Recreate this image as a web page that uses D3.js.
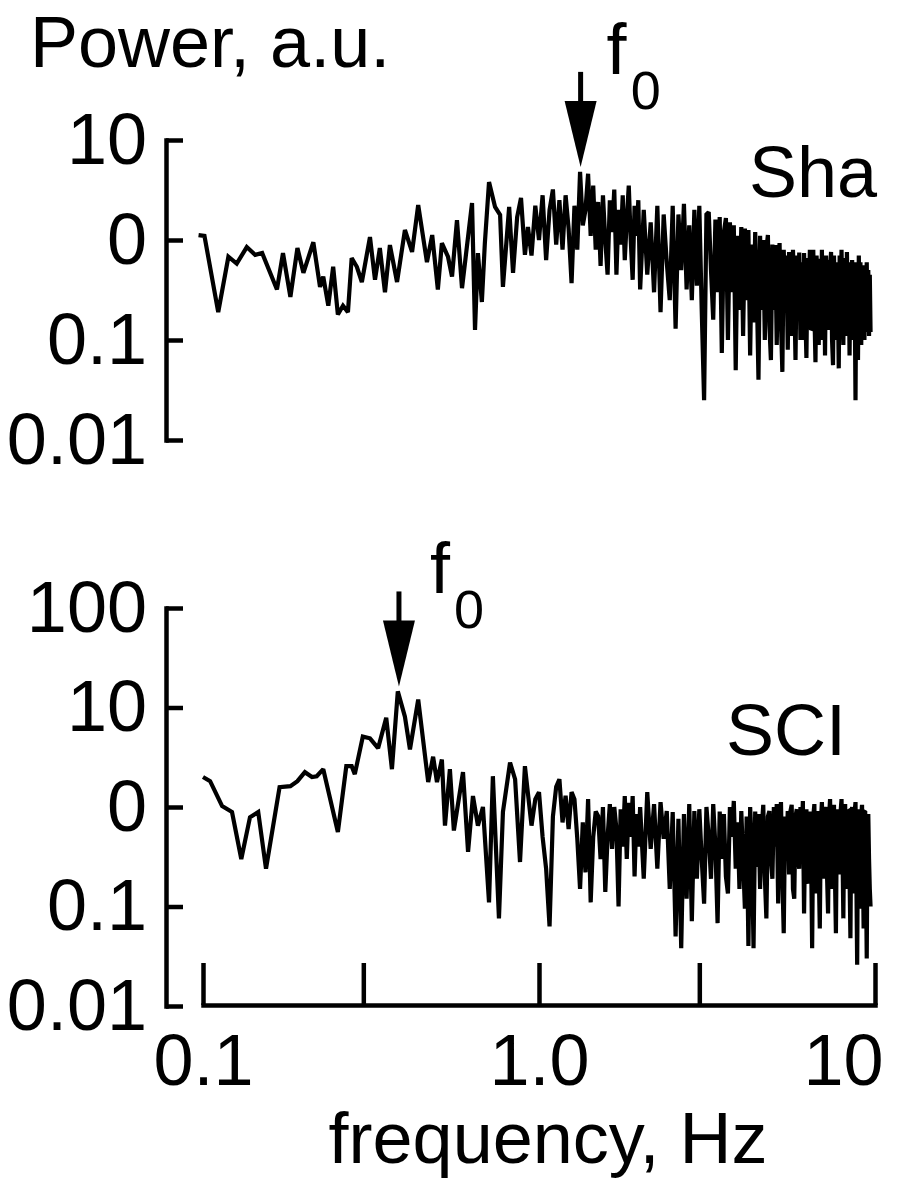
<!DOCTYPE html>
<html>
<head>
<meta charset="utf-8">
<script src="https://cdn.jsdelivr.net/npm/d3@7"></script>
<style>
  body { margin: 0; background: #fff; }
  svg { display: block; font-family: "Liberation Sans", Arial, sans-serif; }
</style>
</head>
<body>
<svg id="chart" width="902" height="1184"></svg>
<script>
// frequency bins (Hz) above ~1 Hz, shared by both spectra
const gridFreq = [
  0.950, 0.975, 1.000, 1.025, 1.050, 1.075, 1.100, 1.125, 1.150, 1.175,
  1.200, 1.225, 1.250, 1.275, 1.300, 1.325, 1.350, 1.375, 1.400, 1.425,
  1.450, 1.475, 1.500, 1.525, 1.550, 1.575, 1.600, 1.625, 1.650, 1.675,
  1.700, 1.725, 1.750, 1.775, 1.800, 1.825, 1.850, 1.875, 1.900, 1.925,
  1.950, 1.975, 2.000,
  2.05, 2.10, 2.15, 2.20, 2.25, 2.30, 2.35, 2.40, 2.45, 2.50,
  2.55, 2.60, 2.65, 2.70, 2.75, 2.80, 2.85, 2.90, 2.95, 3.00,
  3.05, 3.10, 3.15, 3.20, 3.25, 3.30, 3.35, 3.40, 3.45, 3.50,
  3.55, 3.60, 3.65, 3.70, 3.75, 3.80, 3.85, 3.90, 3.95, 4.00,
  4.05, 4.10, 4.15, 4.20, 4.25, 4.30, 4.35, 4.40, 4.45, 4.50,
  4.55, 4.60, 4.65, 4.70, 4.75, 4.80, 4.85, 4.90, 4.95, 5.00,
  5.05, 5.10, 5.15, 5.20, 5.25, 5.30, 5.35, 5.40, 5.45, 5.50,
  5.55, 5.60, 5.65, 5.70, 5.75, 5.80, 5.85, 5.90, 5.95, 6.00,
  6.05, 6.10, 6.15, 6.20, 6.25, 6.30, 6.35, 6.40, 6.45, 6.50,
  6.55, 6.60, 6.65, 6.70, 6.75, 6.80, 6.85, 6.90, 6.95, 7.00,
  7.05, 7.10, 7.15, 7.20, 7.25, 7.30, 7.35, 7.40, 7.45, 7.50,
  7.55, 7.60, 7.65, 7.70, 7.75, 7.80, 7.85, 7.90, 7.95, 8.00,
  8.05, 8.10, 8.15, 8.20, 8.25, 8.30, 8.35, 8.40, 8.45, 8.50,
  8.55, 8.60, 8.65, 8.70, 8.75, 8.80, 8.85, 8.90, 8.95, 9.00,
  9.05, 9.10, 9.15, 9.20, 9.25, 9.30, 9.35, 9.40, 9.45, 9.50,
  9.55, 9.60, 9.65, 9.70];

// Sha spectrum
const shaLowFreq = [0.097, 0.101, 0.111, 0.119, 0.126, 0.135, 0.143, 0.150, 0.166, 0.173, 0.182,
  0.191, 0.199, 0.213, 0.223, 0.228, 0.236, 0.244, 0.252, 0.261, 0.270, 0.277, 0.287, 0.297,
  0.314, 0.325, 0.336, 0.348, 0.360, 0.378, 0.399, 0.419, 0.437, 0.464, 0.481, 0.500, 0.514,
  0.536, 0.551, 0.570, 0.590, 0.632, 0.645, 0.658, 0.676, 0.690, 0.710, 0.740, 0.766, 0.781,
  0.815, 0.837, 0.861, 0.884, 0.908, 0.927];
const shaLowPow = [1.12, 1.1, 0.19, 0.68, 0.58, 0.85, 0.71, 0.74, 0.32, 0.74, 0.27, 0.83, 0.47,
  0.95, 0.34, 0.43, 0.22, 0.54, 0.18, 0.22, 0.19, 0.66, 0.54, 0.38, 1.07, 0.4, 0.83, 0.30, 0.89,
  0.38, 1.26, 0.76, 2.24, 0.6, 1.12, 0.32, 0.93, 0.68, 0.43, 1.58, 0.33, 2.34, 0.126, 0.74, 0.24,
  0.93, 3.8, 2.14, 1.78, 0.34, 2.14, 0.47, 1.7, 2.63, 0.71, 1.35];
const shaGridPow = [
  0.7, 2.2, 1.0, 2.8, 0.63, 2.0, 3.2, 0.9, 2.5, 0.8,
  2.8, 1.3, 0.37, 2.2, 0.8, 4.8, 1.4, 2.0, 4.6, 1.1,
  3.5, 0.8, 2.4, 0.55, 2.8, 1.0, 0.45, 2.5, 1.2, 3.2,
  0.45, 2.0, 0.9, 2.8, 0.63, 1.6, 3.5, 1.0, 0.4, 2.2,
  1.1, 2.5, 0.32,
  2.0, 0.45, 1.5, 0.3, 2.2, 0.19, 1.8, 0.6, 0.25, 2.2,
  0.13, 1.8, 0.5, 2.3, 0.32, 1.4, 0.25, 2.0, 0.35, 2.2,
  0.2, 0.025, 1.8, 1.9, 0.5, 0.16, 1.6, 0.3, 1.7, 0.074,
  1.2, 1.66, 0.1, 1.5, 0.3, 1.4, 0.05, 1.1, 0.2, 1.35,
  0.11, 1.3, 0.25, 1.26, 0.07, 0.9, 0.15, 1.2, 0.3, 0.04,
  1.1, 0.2, 1.0, 0.1, 0.8, 1.12, 0.14, 0.063, 0.9, 0.2,
  0.89, 0.089, 0.6, 0.93, 0.15, 0.048, 0.8, 0.25, 0.7, 0.08,
  0.76, 0.18, 0.11, 0.8, 0.3, 0.063, 0.7, 0.16, 0.75, 0.1,
  0.6, 0.1, 0.74, 0.2, 0.066, 0.66, 0.25, 0.8, 0.126, 0.13,
  0.8, 0.2, 0.06, 0.7, 0.3, 0.089, 0.65, 0.15, 0.8, 0.1,
  0.6, 0.07, 0.7, 0.2, 0.63, 0.126, 0.5, 0.76, 0.1, 0.056,
  0.7, 0.2, 0.1, 0.6, 0.3, 0.052, 0.7, 0.15, 0.8, 0.2,
  0.089, 0.66, 0.25, 0.11, 0.76, 0.2, 0.6, 0.07, 0.5, 0.15,
  0.63, 0.1, 0.5, 0.3, 0.025, 0.6, 0.2, 0.063, 0.7, 0.15,
  0.6, 0.089, 0.45, 0.25, 0.56, 0.1, 0.5, 0.2, 0.6, 0.12,
  0.5, 0.11, 0.45, 0.12];

// SCI spectrum
const sciLowFreq = [0.100, 0.105, 0.114, 0.122, 0.130, 0.138, 0.146, 0.154, 0.169, 0.182, 0.191,
  0.201, 0.211, 0.218, 0.228, 0.252, 0.267, 0.277, 0.283, 0.299, 0.314, 0.332, 0.351, 0.365,
  0.380, 0.399, 0.413, 0.437, 0.468, 0.484, 0.497, 0.514, 0.525, 0.543, 0.558, 0.594, 0.615,
  0.636, 0.658, 0.681, 0.710, 0.729, 0.760, 0.781, 0.820, 0.849, 0.878, 0.908];
const sciLowPow = [2.0, 1.82, 1.02, 0.89, 0.30, 0.79, 0.89, 0.24, 1.58, 1.62, 1.82, 2.24, 2.0,
  2.04, 2.4, 0.56, 2.57, 2.57, 2.14, 5.1, 4.9, 3.9, 7.9, 2.4, 14.5, 8.1, 3.8, 12, 1.78, 3.2, 1.78,
  3.0, 0.65, 2.4, 0.58, 2.24, 0.355, 1.29, 0.65, 1.0, 0.11, 2.04, 0.076, 0.89, 2.8, 1.9, 0.28, 2.57];
const sciGridPow = [
  0.65, 1.2, 1.41, 0.5, 0.24, 0.063, 0.8, 1.6, 1.9, 0.7,
  1.3, 0.6, 1.41, 1.2, 0.48, 0.15, 0.7, 0.22, 1.2, 0.11,
  0.5, 0.9, 0.81, 0.3, 1.0, 0.14, 0.5, 1.07, 0.38, 1.0,
  0.6, 0.1, 0.95, 0.4, 1.29, 0.3, 1.1, 0.5, 1.29, 0.2,
  0.85, 0.4, 1.0,
  0.19, 1.41, 0.38, 1.07, 0.24, 1.12, 0.48, 0.91, 0.15, 0.89,
  0.05, 0.76, 0.038, 0.85, 0.12, 1.07, 0.071, 0.91, 0.19, 0.95,
  0.3, 0.107, 1.0, 0.5, 0.19, 1.07, 0.4, 0.068, 0.9, 0.3,
  0.85, 0.2, 0.135, 1.0, 0.5, 1.15, 0.24, 0.7, 0.15, 0.91,
  0.3, 0.095, 0.8, 0.04, 1.0, 0.4, 0.038, 0.9, 0.25, 0.85,
  0.15, 0.6, 1.05, 0.2, 0.076, 0.8, 0.91, 0.3, 0.19, 1.0,
  0.4, 1.07, 0.107, 0.7, 1.12, 0.2, 0.054, 0.8, 0.35, 0.91,
  0.21, 0.9, 1.05, 0.15, 0.12, 0.8, 0.95, 0.3, 0.24, 1.0,
  0.5, 1.15, 0.085, 0.6, 0.95, 0.2, 0.17, 0.9, 0.4, 0.038,
  0.8, 1.07, 0.135, 0.5, 0.91, 0.25, 0.06, 0.7, 1.12, 0.3,
  0.19, 0.9, 1.0, 0.2, 0.085, 0.8, 1.2, 0.35, 0.15, 0.9,
  1.05, 0.2, 0.054, 0.7, 0.95, 0.3, 0.21, 0.9, 1.2, 0.4,
  0.076, 0.8, 1.07, 0.25, 0.15, 0.9, 0.91, 0.2, 0.048, 0.85,
  1.0, 0.3, 0.135, 0.9, 1.12, 0.2, 0.026, 0.7, 0.95, 0.4,
  0.095, 0.8, 1.05, 0.3, 0.06, 0.9, 0.91, 0.2, 0.03, 0.6,
  0.85, 0.3, 0.15, 0.1];

// dominant frequency f0 of each spectrum (Hz)
const shaF0 = 1.33;
const sciF0 = 0.383;

const shaTicks = [10, 1, 0.1, 0.01];
const shaTickLabels = ['10', '0', '0.1', '0.01'];
const sciTicks = [100, 10, 1, 0.1, 0.01];
const sciTickLabels = ['100', '10', '0', '0.1', '0.01'];
const freqTicks = [0.1, 0.3, 1, 3, 10];
const freqTickLabels = ['0.1', '', '1.0', '', '10'];

const FONT_SIZE = 72;
const AXIS_WIDTH = 4.5;
const LINE_WIDTH = 4.2;

const svg = d3.select('#chart');
svg.append('rect').attr('width', 902).attr('height', 1184).attr('fill', '#fff');

const x = d3.scaleLog().domain([0.1, 10]).range([203, 875]);
const yTop = d3.scaleLog().domain([0.01, 10]).range([440, 140]);
const yBot = d3.scaleLog().domain([0.01, 100]).range([1006, 608]);

const shaData = shaLowFreq.map((f, i) => [f, shaLowPow[i]])
  .concat(gridFreq.map((f, i) => [f, shaGridPow[i]]).filter(d => d[1] != null));
const sciData = sciLowFreq.map((f, i) => [f, sciLowPow[i]])
  .concat(gridFreq.map((f, i) => [f, sciGridPow[i]]).filter(d => d[1] != null));

const styleAxis = (g) => {
  g.select('.domain').attr('stroke-width', AXIS_WIDTH).attr('stroke-linecap', 'square');
  g.selectAll('.tick line').attr('stroke-width', AXIS_WIDTH);
  g.selectAll('.tick text').attr('font-size', FONT_SIZE).attr('fill', '#000');
  g.attr('font-family', null);
};

// y axes
svg.append('g')
  .attr('transform', 'translate(166,0)')
  .call(d3.axisLeft(yTop).tickValues(shaTicks).tickFormat((d, i) => shaTickLabels[i])
    .tickSize(-17).tickSizeOuter(0).tickPadding(19))
  .call(styleAxis);

svg.append('g')
  .attr('transform', 'translate(166,0)')
  .call(d3.axisLeft(yBot).tickValues(sciTicks).tickFormat((d, i) => sciTickLabels[i])
    .tickSize(-17).tickSizeOuter(0).tickPadding(19))
  .call(styleAxis);

// x axis (bottom panel only)
const xAxis = svg.append('g')
  .attr('transform', 'translate(0,1005)')
  .call(d3.axisBottom(x).tickValues(freqTicks).tickFormat((d, i) => freqTickLabels[i])
    .tickSize(-42).tickSizeOuter(0).tickPadding(29))
  .call(styleAxis);
xAxis.selectAll('.tick text').filter(d => d === 10).attr('dx', -32);

// spectra
const lineTop = d3.line().x(d => x(d[0])).y(d => yTop(d[1]));
const lineBot = d3.line().x(d => x(d[0])).y(d => yBot(d[1]));

svg.append('path').datum(shaData).attr('d', lineTop)
  .attr('fill', 'none').attr('stroke', '#000').attr('stroke-width', LINE_WIDTH)
  .attr('stroke-linejoin', 'miter').attr('stroke-miterlimit', 2);
svg.append('path').datum(sciData).attr('d', lineBot)
  .attr('fill', 'none').attr('stroke', '#000').attr('stroke-width', LINE_WIDTH)
  .attr('stroke-linejoin', 'miter').attr('stroke-miterlimit', 2);

// f0 arrows, tip just above the spectrum peak nearest f0
const drawArrow = (data, f0, y, labelDx) => {
  const peak = data.reduce((a, b) => Math.abs(b[0] - f0) < Math.abs(a[0] - f0) ? b : a);
  const ax = x(f0);
  const tip = y(peak[1]) - 5;
  const g = svg.append('g');
  g.append('line')
    .attr('x1', ax).attr('x2', ax).attr('y1', tip - 95).attr('y2', tip - 50)
    .attr('stroke', '#000').attr('stroke-width', 5);
  g.append('path')
    .attr('d', `M${ax - 16},${tip - 66}L${ax + 16},${tip - 66}L${ax},${tip}Z`)
    .attr('fill', '#000');
  const t = g.append('text').attr('x', ax + labelDx).attr('y', tip - 93)
    .attr('font-size', FONT_SIZE).attr('fill', '#000');
  t.append('tspan').text('f');
  t.append('tspan').attr('dy', 35).attr('dx', 4).attr('font-size', 54).text('0');
};
drawArrow(shaData, shaF0, yTop, 26);
drawArrow(sciData, sciF0, yBot, 31);

// labels
svg.append('text').attr('x', 30).attr('y', 67).attr('font-size', FONT_SIZE).text('Power, a.u.');
svg.append('text').attr('x', 877).attr('y', 197).attr('text-anchor', 'end')
  .attr('font-size', FONT_SIZE).text('Sha');
svg.append('text').attr('x', 846).attr('y', 755).attr('text-anchor', 'end')
  .attr('font-size', FONT_SIZE).text('SCI');
svg.append('text').attr('x', 548).attr('y', 1163).attr('text-anchor', 'middle')
  .attr('font-size', FONT_SIZE).text('frequency, Hz');
</script>
</body>
</html>
